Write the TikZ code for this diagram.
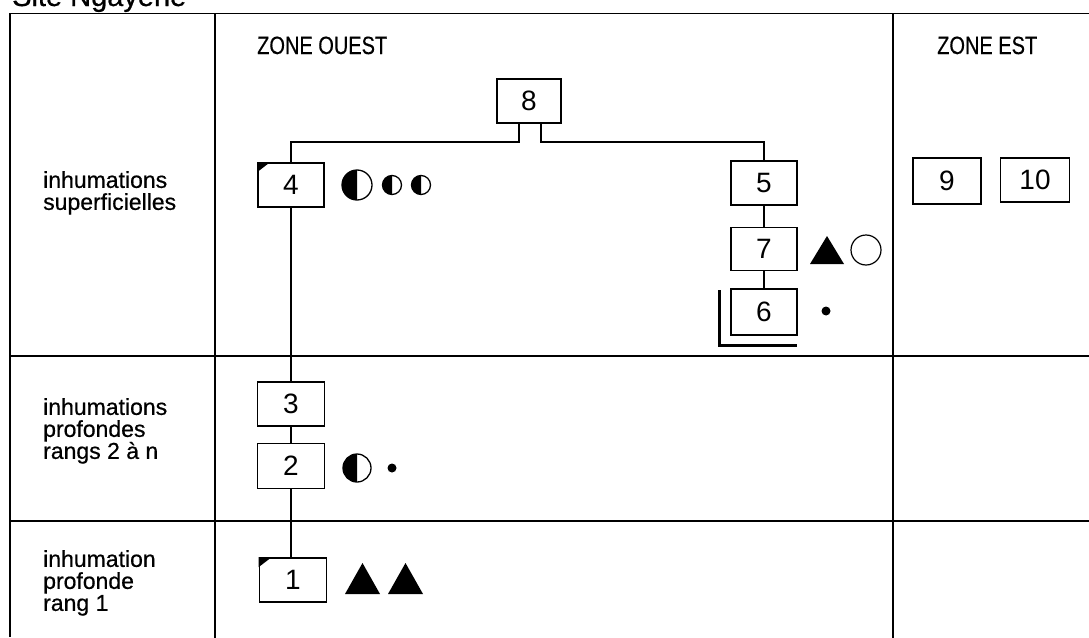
\documentclass[tikz,border=0pt]{standalone}
\usepackage{fontspec}
\setmainfont{Liberation Sans}
\newfontfamily\zonefont[FakeStretch=0.8, FakeBold=0.4]{Liberation Sans}
\newfontfamily\labelfont[FakeBold=0.6]{Liberation Sans}
\begin{document}
\begin{tikzpicture}[x=1pt,y=-1pt,
  grid/.style={line width=1.8pt},
  numbox/.style={draw, line width=1.7pt, minimum width=66pt, minimum height=44pt, inner sep=0pt, font=\fontsize{28}{28}\selectfont},
  link/.style={line width=1.4pt},
  rowlabel/.style={anchor=north west, inner sep=0pt, align=left, font=\labelfont\fontsize{23}{22}\selectfont},
  zonelabel/.style={anchor=base west, inner sep=0pt, font=\zonefont\fontsize{25}{25}\selectfont},
]
\useasboundingbox (0,0) rectangle (1089,637);
% title (cut off at the top)
\node[anchor=base west, inner sep=0pt, font=\labelfont\fontsize{29}{29}\selectfont] (title) at (12,6) {Site Ngayène};
% table
\draw[grid] (10,637) -- (10,13.5) -- (1095,13.5);
\draw[grid] (215,13.5) -- (215,640);
\draw[grid] (893,13.5) -- (893,640);
\draw[grid] (10,356) -- (1095,356);
\draw[grid] (10,521) -- (1095,521);
% headers and row labels
\node[zonelabel] (zo) at (257,54) {ZONE OUEST};
\node[zonelabel] (ze) at (937,54) {ZONE EST};
\node[rowlabel] (r1) at (43,171) {inhumations\\superficielles};
\node[rowlabel] (r2) at (43,398) {inhumations\\profondes\\rangs 2 à n};
\node[rowlabel] (r3) at (43,550) {inhumation\\profonde\\rang 1};
% boxes
\node[numbox, minimum width=64pt] (n8) at (529,101) {8};
\node[numbox] (n4) at (291,185) {4};
\node[numbox] (n5) at (764,183) {5};
\node[numbox, minimum height=43pt] (n7) at (764,249) {7};
\node[numbox, minimum height=46pt] (n6) at (764,312) {6};
\node[numbox, minimum width=68pt, minimum height=46pt] (n9) at (947,181) {9};
\node[numbox, minimum width=69pt] (n10) at (1035,180) {10};
\node[numbox, minimum width=67pt] (n3) at (291,404) {3};
\node[numbox, minimum width=67pt, minimum height=45pt] (n2) at (291,466) {2};
\node[numbox, minimum width=67pt] (n1) at (293,580) {1};
% corner marks
\fill (n4.north west) -- ++(13,0) -- ++(-13,10) -- cycle;
\fill (n1.north west) -- ++(13,0) -- ++(-13,10) -- cycle;
% bracket of 6
\draw[line width=3pt] (719,290) -- (719,345) -- (797,345);
% connectors
\coordinate (s1) at (519,142);
\coordinate (s2) at (541,142);
\draw[link] (n8.south -| s1) -- (s1) -| (n4.north);
\draw[link] (n8.south -| s2) -- (s2) -| (n5.north);
\draw[link] (n4) -- (n3);
\draw[link] (n3) -- (n2);
\draw[link] (n2.south) -- (n2.south |- n1.north);
\draw[link] (n5) -- (n7);
\draw[link] (n7) -- (n6);
% symbols
\newcommand\hdisc[3]{%
  \fill (#1,#2) ++(90:#3) arc[start angle=90, end angle=270, radius=#3] -- cycle;
  \draw[line width=1.3pt] (#1,#2) circle[radius=#3];}
\hdisc{357}{185}{15}
\hdisc{392}{185}{9.5}
\hdisc{421}{185}{9.5}
\hdisc{357}{468}{14}
\fill (392,468) circle[radius=4.5];
\fill (810,264) -- (844,264) -- (827,236) -- cycle;
\draw[line width=1.2pt] (866,250) circle[radius=15];
\fill (826,311) circle[radius=4.5];
\fill (345,594) -- (380,594) -- (362.5,563) -- cycle;
\fill (388,594) -- (423,594) -- (405.5,563) -- cycle;
\end{tikzpicture}
\end{document}
